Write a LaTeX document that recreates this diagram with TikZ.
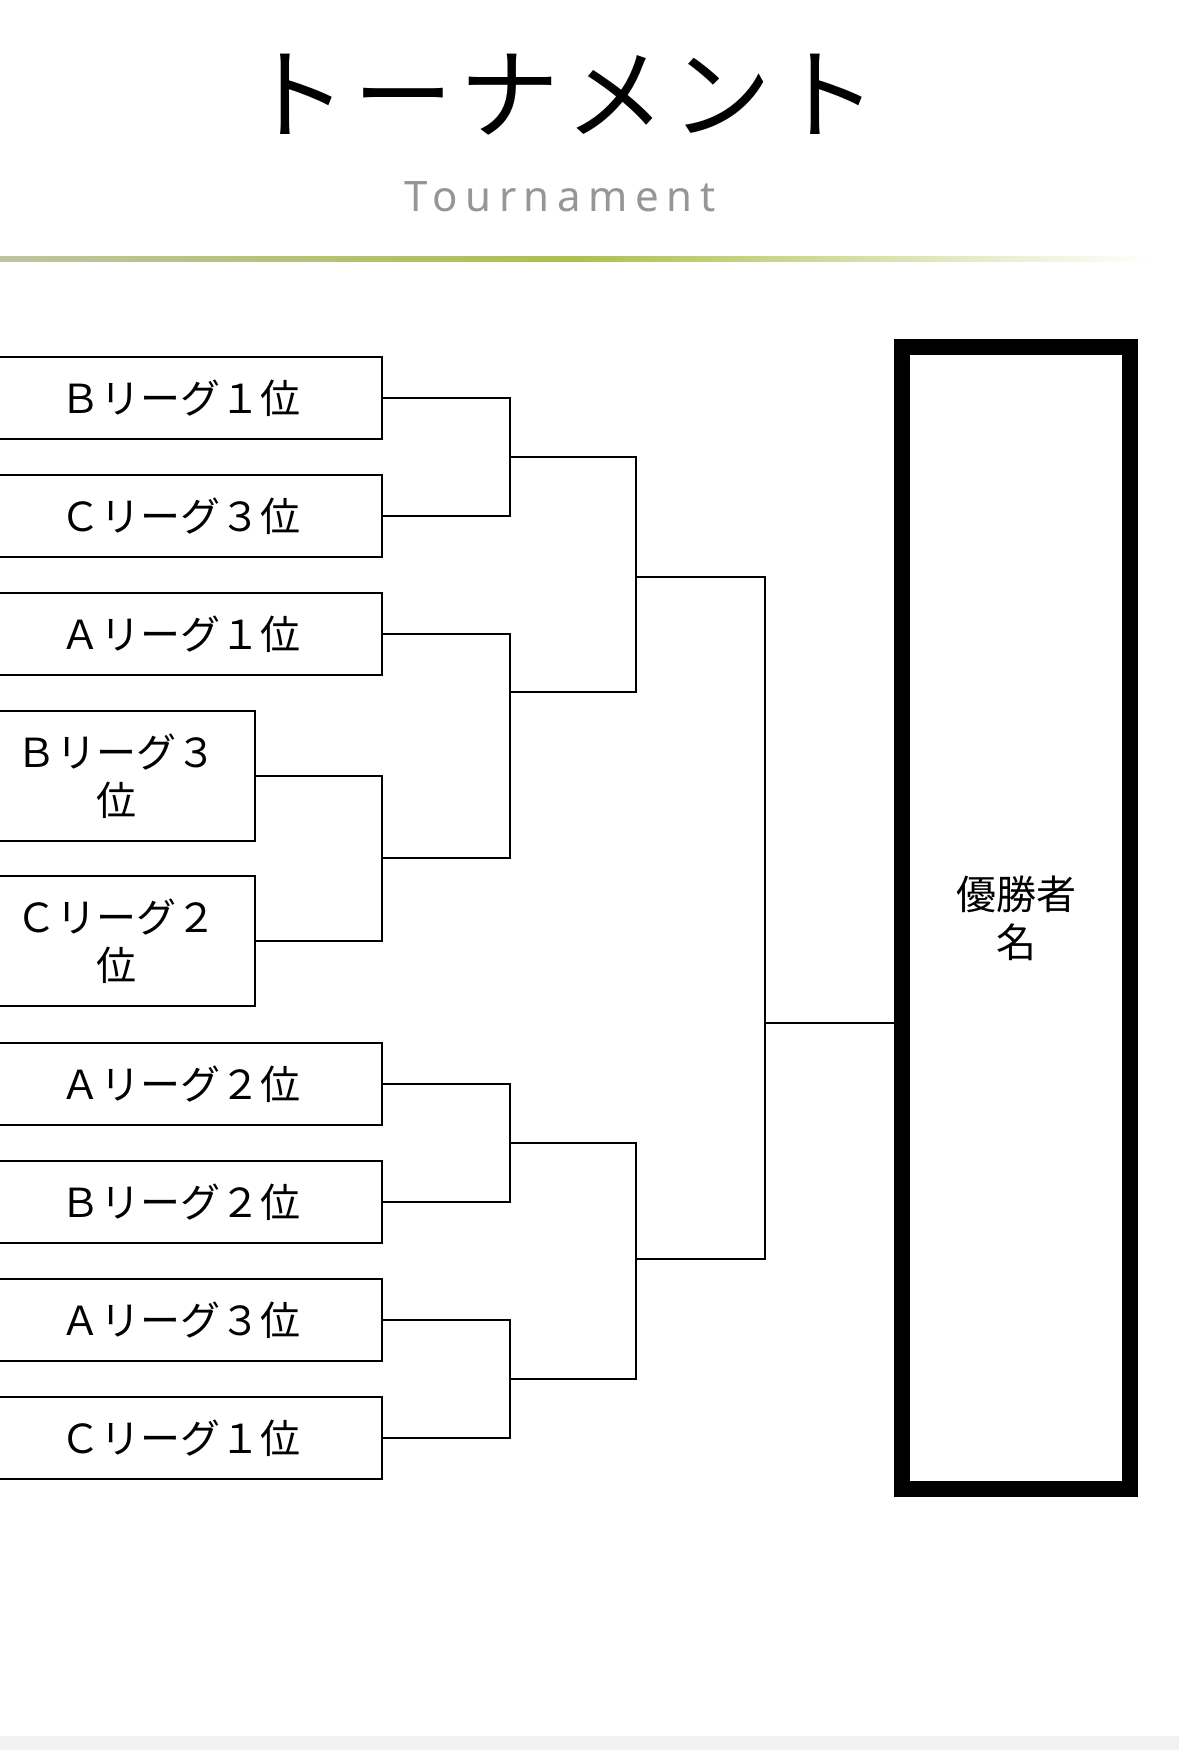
\documentclass[tikz,border=0pt]{standalone}
\usepackage{fontspec}
\setmainfont{Noto Sans CJK JP}
\newfontfamily\jp{Noto Sans CJK JP}
\newfontfamily\titlefont[LetterSpace=6]{Noto Sans CJK JP}
\newfontfamily\subfont[LetterSpace=18]{Noto Sans}
\definecolor{leafgreen}{RGB}{176,190,80}
\definecolor{leafgray}{RGB}{190,196,160}
\definecolor{subgray}{RGB}{150,150,150}
\tikzset{
  entry/.style={draw, line width=2.8pt, minimum height=82pt, minimum width=404pt,
    inner sep=0pt, font=\jp\fontsize{40}{48}\selectfont, align=center},
  entrytwo/.style={entry, minimum width=277pt, minimum height=130pt},
  link/.style={line width=2.8pt},
  winner/.style={draw, line width=16pt, minimum width=228pt, minimum height=1142pt,
    inner sep=0pt, font=\jp\fontsize{40}{48}\selectfont, align=center}
}
\begin{document}
\begin{tikzpicture}[x=1pt,y=-1pt]
\useasboundingbox (0,0) rectangle (1179,1750);
\clip (0,0) rectangle (1179,1750);
\fill[white] (0,0) rectangle (1179,1750);
\fill[black!5] (0,1736) rectangle (1179,1750);
% title
\node[font=\titlefont\fontsize{100}{100}\selectfont] (title) at (562,95) {トーナメント};
\node[font=\subfont\fontsize{42}{42}\selectfont, text=subgray] (sub) at (560,197) {Tournament};
\shade[left color=leafgray, right color=white, middle color=leafgreen] (0,256.5) rectangle (1150,261.5);
% entries
\node[entry] (b1) at (180,398) {Ｂリーグ１位};
\node[entry] (b2) at (180,516) {Ｃリーグ３位};
\node[entry] (b3) at (180,634) {Ａリーグ１位};
\node[entrytwo] (b4) at (116.5,776) {Ｂリーグ３\\位};
\node[entrytwo] (b5) at (116.5,941) {Ｃリーグ２\\位};
\node[entry] (b6) at (180,1084) {Ａリーグ２位};
\node[entry] (b7) at (180,1202) {Ｂリーグ２位};
\node[entry] (b8) at (180,1320) {Ａリーグ３位};
\node[entry] (b9) at (180,1438) {Ｃリーグ１位};
\node[winner] (win) at (1016,918) {優勝者\\名};
% junctions
\coordinate (m45) at (382,858);
\coordinate (j12) at (510,457);
\coordinate (j3) at (510,692);
\coordinate (j67) at (510,1143);
\coordinate (j89) at (510,1379);
\coordinate (k1) at (636,577);
\coordinate (k2) at (636,1259);
\coordinate (f) at (765,1023);
% connectors
\draw[link] (b4.east) -| (m45) |- (b5.east);
\draw[link] (b1.east) -| (j12) |- (b2.east);
\draw[link] (b3.east) -| (j3) |- (m45);
\draw[link] (b6.east) -| (j67) |- (b7.east);
\draw[link] (b8.east) -| (j89) |- (b9.east);
\draw[link] (j12) -| (k1) |- (j3);
\draw[link] (j67) -| (k2) |- (j89);
\draw[link] (k1) -| (f) |- (k2);
\draw[link] (f) -- (f -| win.west);
\end{tikzpicture}
\end{document}
